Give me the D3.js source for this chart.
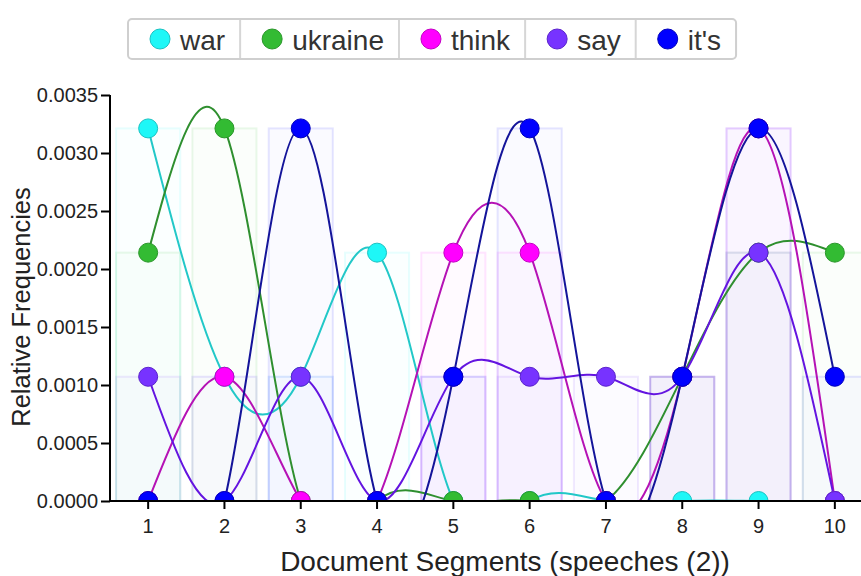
<!DOCTYPE html>
<html>
<head>
<meta charset="utf-8">
<script src="https://cdn.jsdelivr.net/npm/d3@7"></script>
<style>
  html, body { margin: 0; padding: 0; background: #fff; }
  svg { display: block; font-family: "Liberation Sans", Arial, sans-serif; }
</style>
</head>
<body>
<svg id="chart" width="861" height="576"></svg>
<script>
// ---- data ----
const segments = [1, 2, 3, 4, 5, 6, 7, 8, 9, 10];
const terms = ["war", "ukraine", "think", "say", "it's"];
const war     = [0.003212, 0.001071, 0.001071, 0.002141, 0, 0, 0, 0, 0, 0];
const ukraine = [0.002141, 0.003212, 0, 0, 0, 0, 0, 0.001071, 0.002141, 0.002141];
const think   = [0, 0.001071, 0, 0, 0.002141, 0.002141, 0, 0.001071, 0.003212, 0];
const say     = [0.001071, 0, 0.001071, 0, 0.001071, 0.001071, 0.001071, 0.001071, 0.002141, 0];
const its     = [0, 0, 0.003212, 0, 0.001071, 0.003212, 0, 0.001071, 0.003212, 0.001071];
const yTicks  = [0, 0.0005, 0.001, 0.0015, 0.002, 0.0025, 0.003, 0.0035];
const fillColors = ["#1ef7f7", "#33bb33", "#ff00ff", "#7733ff", "#0000ff"];
const lineColors = ["#22c8c8", "#2f8f2f", "#b512b5", "#6414e0", "#14149a"];
const strokeColors = ["#19c2c2", "#2a962a", "#c400c4", "#5a22cc", "#0000bb"];
const xTitle = "Document Segments (speeches (2))";
const yTitle = "Relative Frequencies";

const seriesValues = [war, ukraine, think, say, its];
const series = terms.map((t, i) => ({
  term: t, i,
  values: segments.map((s, j) => ({ seg: s, v: seriesValues[i][j] }))
}));

// ---- layout ----
const svg = d3.select("#chart");
const pLeft = 110, pRight = 873, pTop = 95, pBottom = 501;

const x = d3.scaleBand().domain(segments).range([pLeft, pRight])
  .paddingInner(0.16).paddingOuter(0.08);
const cx = s => x(s) + x.bandwidth() / 2;
const y = d3.scaleLinear().domain([0, 0.0035]).range([pBottom, pTop]);

svg.append("defs").append("clipPath").attr("id", "plotClip")
  .append("rect").attr("x", pLeft).attr("y", 0)
  .attr("width", 861 - pLeft).attr("height", pBottom);

const plot = svg.append("g").attr("clip-path", "url(#plotClip)");

// bars
series.forEach(s => {
  plot.append("g").selectAll("rect")
    .data(s.values.filter(d => d.v > 0))
    .join("rect")
    .attr("x", d => x(d.seg))
    .attr("y", d => y(d.v))
    .attr("width", x.bandwidth())
    .attr("height", d => y(0) - y(d.v))
    .attr("fill", fillColors[s.i])
    .attr("fill-opacity", 0.02)
    .attr("stroke", fillColors[s.i])
    .attr("stroke-opacity", 0.1)
    .attr("stroke-width", 2);
});

// lines
const line = d3.line().curve(d3.curveNatural)
  .x(d => cx(d.seg)).y(d => y(d.v));
series.forEach(s => {
  plot.append("path").datum(s.values)
    .attr("d", line)
    .attr("fill", "none")
    .attr("stroke", lineColors[s.i])
    .attr("stroke-width", 2);
});

// dots
series.forEach(s => {
  plot.append("g").selectAll("circle")
    .data(s.values)
    .join("circle")
    .attr("cx", d => cx(d.seg))
    .attr("cy", d => y(d.v))
    .attr("r", 9.5)
    .attr("fill", fillColors[s.i])
    .attr("stroke", strokeColors[s.i])
    .attr("stroke-width", 1);
});

// axes
const yAxis = svg.append("g").attr("transform", `translate(${pLeft},0)`)
  .call(d3.axisLeft(y).tickValues(yTicks).tickFormat(d3.format(".4f"))
    .tickSize(9).tickSizeOuter(0).tickPadding(3));
const xAxis = svg.append("g").attr("transform", `translate(0,${pBottom})`)
  .call(d3.axisBottom(x).tickSize(8).tickSizeOuter(0).tickPadding(10));
[yAxis, xAxis].forEach(a => {
  a.selectAll("path, line").attr("stroke", "#000").attr("stroke-width", 2);
  a.selectAll("text").attr("font-size", 20).attr("fill", "#222")
    .attr("font-family", "'Liberation Sans', Arial, sans-serif");
});
xAxis.select(".domain").attr("d", `M${pLeft},0H${pRight}`);
yAxis.select(".domain").attr("d", `M0,${pTop}V${pBottom}`);

// titles
svg.append("text").attr("x", 505).attr("y", 571)
  .attr("text-anchor", "middle").attr("font-size", 28).attr("fill", "#222")
  .text(xTitle);
svg.append("text").attr("transform", "translate(30,307) rotate(-90)")
  .attr("text-anchor", "middle").attr("font-size", 25.5).attr("fill", "#222")
  .text(yTitle);

// legend
const legend = svg.append("g");
const legY = 19, legH = 40;
let lx = 128;
const cells = [];
terms.forEach((t, i) => {
  const g = legend.append("g");
  const txt = g.append("text").attr("y", legY + 31).attr("font-size", 28)
    .attr("fill", "#333").text(t);
  const w = txt.node().getComputedTextLength();
  const cellW = w + 67;
  g.append("circle").attr("cx", lx + 32).attr("cy", legY + legH / 2).attr("r", 10)
    .attr("fill", fillColors[i]).attr("stroke", strokeColors[i]).attr("stroke-width", 1);
  txt.attr("x", lx + 52);
  cells.push([lx, cellW]);
  lx += cellW;
});
legend.insert("rect", ":first-child")
  .attr("x", 128).attr("y", legY).attr("width", lx - 128).attr("height", legH)
  .attr("rx", 4).attr("fill", "#fff").attr("stroke", "#cfcfcf").attr("stroke-width", 2);
cells.slice(1).forEach(c => {
  legend.append("line").attr("x1", c[0]).attr("x2", c[0])
    .attr("y1", legY + 1).attr("y2", legY + legH - 1)
    .attr("stroke", "#d6d6d6").attr("stroke-width", 2);
});
</script>
</body>
</html>
